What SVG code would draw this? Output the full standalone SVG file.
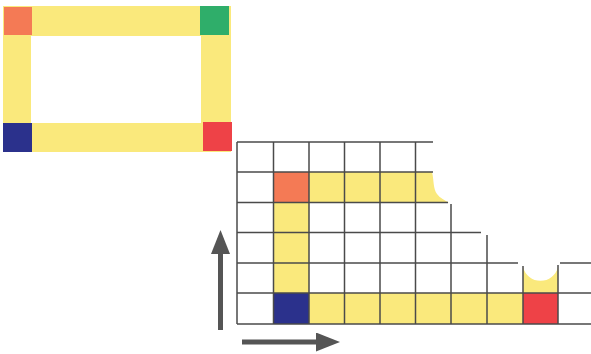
<svg xmlns="http://www.w3.org/2000/svg" width="591" height="354" viewBox="0 0 591 354">
  <style>
    .y { fill: #FAE97C; }
    .o { fill: #F47A55; }
    .g { fill: #2FAE6A; }
    .b { fill: #2B318C; }
    .r { fill: #EE4247; }
    .grid line { stroke: #4a4a4a; stroke-width: 1.5; }
    .arrow { stroke: #555555; stroke-width: 5; fill: none; }
  </style>
  <defs>
    <marker id="head" markerUnits="userSpaceOnUse" markerWidth="24" markerHeight="19" viewBox="0 0 24 19" refX="1" refY="9.5" orient="auto">
      <path d="M0,0 L24,9.5 L0,19 Z" fill="#555555"/>
    </marker>
  </defs>
  <rect width="591" height="354" fill="#ffffff"/>

  <g id="frame">
    <path class="y" fill-rule="evenodd" d="M3,6 H231 V152 H3 Z M31,36 V123 H201 V36 Z"/>
    <rect class="o" x="4" y="7" width="28" height="28"/>
    <rect class="g" x="200" y="6" width="29" height="29"/>
    <rect class="b" x="3" y="123" width="29" height="29"/>
    <rect class="r" x="203" y="122" width="29" height="29"/>
  </g>

  <g id="cells">
    <rect class="o" x="273.5" y="172" width="35.5" height="30.5"/>
    <rect class="y" x="309" y="172" width="106.5" height="30.5"/>
    <path class="y" d="M415.5,172 H432 C434,180 433,189 437,194 C440,198 444,200 449,202.5 H415.5 Z"/>
    <rect class="y" x="273.5" y="202.5" width="35.5" height="91"/>
    <rect class="b" x="273.5" y="293" width="35.5" height="31"/>
    <rect class="y" x="309" y="293" width="214" height="31"/>
    <rect class="r" x="523" y="293" width="35" height="31"/>
    <path class="y" d="M523,267 A18,18 0 0 0 558,267 V293 H523 Z"/>
  </g>

  <g id="grid" class="grid">
    <line x1="237" y1="142" x2="433" y2="142"/>
    <line x1="237" y1="172" x2="433" y2="172"/>
    <line x1="237" y1="202.5" x2="448" y2="202.5"/>
    <line x1="237" y1="232.5" x2="481" y2="232.5"/>
    <line x1="237" y1="263" x2="518" y2="263"/>
    <line x1="560" y1="263" x2="591" y2="263"/>
    <line x1="237" y1="293" x2="591" y2="293"/>
    <line x1="237" y1="324" x2="591" y2="324"/>
    <line x1="237" y1="142" x2="237" y2="324"/>
    <line x1="273.5" y1="142" x2="273.5" y2="324"/>
    <line x1="309" y1="142" x2="309" y2="324"/>
    <line x1="344.5" y1="142" x2="344.5" y2="324"/>
    <line x1="380" y1="142" x2="380" y2="324"/>
    <line x1="415.5" y1="142" x2="415.5" y2="324"/>
    <line x1="451" y1="204" x2="451" y2="324"/>
    <line x1="487" y1="235" x2="487" y2="324"/>
    <line x1="523" y1="266" x2="523" y2="324"/>
    <line x1="558" y1="265" x2="558" y2="324"/>
  </g>

  <g id="connectors">
    <line class="arrow" x1="220.5" y1="330" x2="220.5" y2="253" marker-end="url(#head)"/>
    <line class="arrow" x1="242" y1="342" x2="317" y2="342" marker-end="url(#head)"/>
  </g>
</svg>
